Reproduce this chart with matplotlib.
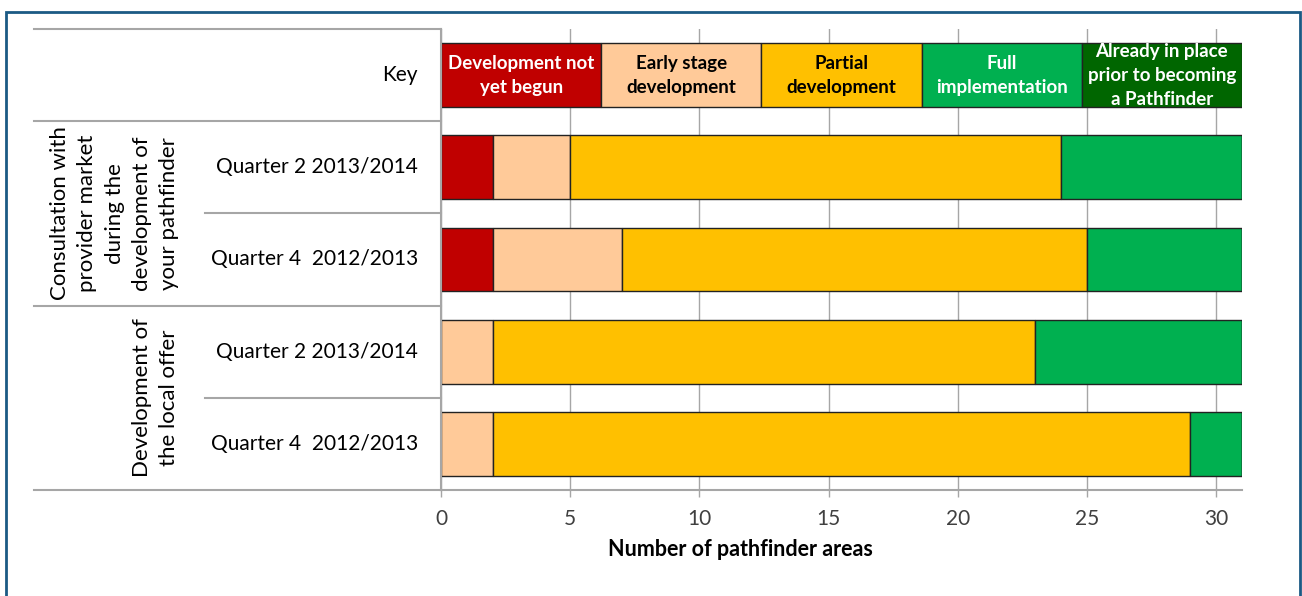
import matplotlib
matplotlib.use("Agg")
from matplotlib import pyplot as plt
from matplotlib import transforms
from matplotlib.lines import Line2D
from matplotlib.patches import Rectangle

# data
row_labels = ['Quarter 2 2013/2014', 'Quarter 4  2012/2013',
              'Quarter 2 2013/2014', 'Quarter 4  2012/2013']
group_labels = ['Consultation with\nprovider market\nduring the\ndevelopment of\nyour pathfinder',
                'Development of\nthe local offer']
stages = ['Development not\nyet begun', 'Early stage\ndevelopment', 'Partial\ndevelopment',
          'Full\nimplementation', 'Already in place\nprior to becoming\na Pathfinder']
not_begun = [2, 2, 0, 0]
early = [3, 5, 2, 2]
partial = [19, 18, 21, 27]
full = [7, 6, 8, 2]
already = [0, 0, 0, 0]
key_widths = [6.2, 6.2, 6.2, 6.2, 6.2]
ticks = [0, 5, 10, 15, 20, 25, 30]

cols = ['#C00000', '#FFCA99', '#FFC000', '#00B050', '#006600']
txt_cols = ['white', 'black', 'black', 'white', 'white']

W, H = 1302, 596
fig = plt.figure(figsize=(W / 100, H / 100), dpi=100)
ax = fig.add_axes([441 / W, 1 - 490 / H, (1242 - 441) / W, (490 - 29) / H])

ypos = [3, 2, 1, 0]
series = [not_begun, early, partial, full, already]
left = [0, 0, 0, 0]
for vals, c in zip(series, cols):
    ax.barh(ypos, vals, left=left, height=0.69, color=c, edgecolor='#222222', linewidth=1)
    left = [l + v for l, v in zip(left, vals)]

# key row
kleft = 0
for w, c, lab, tc in zip(key_widths, cols, stages, txt_cols):
    bar = ax.barh(4, w, left=kleft, height=0.69, color=c, edgecolor='#222222', linewidth=1)[0]
    three = lab.count('\n') == 2
    t = ax.text(kleft + w / 2, 4.35 if three else 4, lab, ha='center',
                va='top' if three else 'center', color=tc, fontsize=13.5,
                fontweight='bold', family='Lato', linespacing=1.5)
    t.set_clip_path(bar)
    kleft += w

ax.set_xlim(0, 31)
ax.set_ylim(-0.5, 4.5)
ax.set_xticks(ticks)
ax.set_yticks([])
ax.grid(axis='x', color='#A6A6A6', linewidth=1)
ax.set_axisbelow(True)
for s in ['top', 'right']:
    ax.spines[s].set_visible(False)
for s in ['left', 'bottom']:
    ax.spines[s].set_color('#A6A6A6')
    ax.spines[s].set_linewidth(1.5)
ax.tick_params(axis='x', length=5, color='#A6A6A6', width=1, labelsize=15,
               labelcolor='#404040', pad=9)
for lab in ax.get_xticklabels():
    lab.set_family('Lato')
ax.set_xlabel('Number of pathfinder areas', fontsize=15.5, fontweight='bold', family='Lato')
ax.xaxis.set_label_coords((740 - 441) / (1242 - 441), -(560 - 490) / (490 - 29))
ax.xaxis.label.set_va('bottom')

# left table
tr = transforms.blended_transform_factory(fig.transFigure, ax.transData)
for y, x0 in [(4.5, 34), (3.5, 34), (2.5, 205), (1.5, 34), (0.5, 205), (-0.5, 34)]:
    fig.add_artist(Line2D([x0 / W, 441 / W], [y, y], transform=tr, color='#A6A6A6', linewidth=1.5))

ax.text(418 / W, 4, 'Key', transform=tr, ha='right', va='center', fontsize=15, family='Lato')
for y, lab in zip(ypos, row_labels):
    ax.text(418 / W, y, lab, transform=tr, ha='right', va='center', fontsize=15, family='Lato')
ax.text(179 / W, 2.5, group_labels[0], transform=tr, ha='right', va='center', rotation=90,
        multialignment='center', fontsize=16, family='Lato', linespacing=1.45)
ax.text(179 / W, 0.5, group_labels[1], transform=tr, ha='right', va='center', rotation=90,
        multialignment='center', fontsize=16, family='Lato', linespacing=1.45)

# blue frame
fig.add_artist(Rectangle((6 / W, -0.1), (1300 - 6) / W, 1.1 - 12 / H, transform=fig.transFigure,
                         fill=False, edgecolor='#1B5A84', linewidth=2))

fig.savefig('out.png', dpi=100)
